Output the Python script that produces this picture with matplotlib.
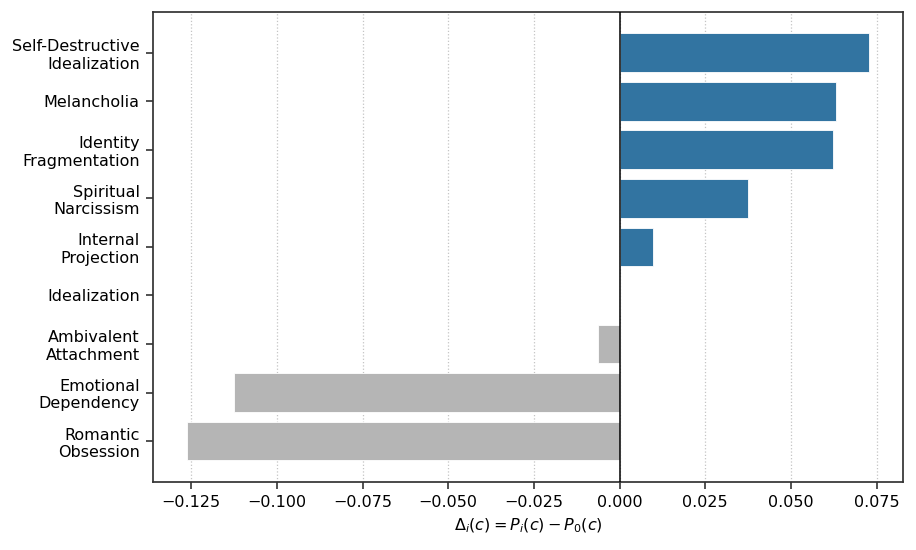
import matplotlib.pyplot as plt
import numpy as np

# categories, top to bottom
labels = ["Self-Destructive\nIdealization", "Melancholia", "Identity\nFragmentation",
          "Spiritual\nNarcissism", "Internal\nProjection", "Idealization",
          "Ambivalent\nAttachment", "Emotional\nDependency", "Romantic\nObsession"]
delta = [0.0728, 0.0632, 0.0623, 0.0375, 0.0097, 0.0, -0.0064, -0.1124, -0.1262]

blue = "#3274a1"
grey = "#b5b5b5"

plt.rcParams['font.size'] = 11.5
fig, ax = plt.subplots(figsize=(9.16, 5.5), dpi=100)

y = np.arange(len(labels))[::-1]
colors = [blue if v > 0 else grey for v in delta]
ax.barh(y, delta, height=0.8, color=colors, edgecolor='white', linewidth=0.6, zorder=2)
ax.axvline(0, color='black', linewidth=1.1, zorder=3)

ax.set_yticks(y)
ax.set_yticklabels(labels)
ax.xaxis.grid(True, linestyle=':', color='#c4c4c4', linewidth=0.9, zorder=0)
ax.set_axisbelow(True)
ax.set_xlabel(r"$\Delta_i(c) = P_i(c) - P_0(c)$", labelpad=5)

for s in ax.spines.values():
    s.set_color('#333333')
    s.set_linewidth(1.25)
ax.tick_params(colors='#333333', labelcolor='black', length=5, width=1.2, pad=4.5)

plt.subplots_adjust(left=0.167, right=0.986, top=0.978, bottom=0.124)
plt.savefig("out.png")
